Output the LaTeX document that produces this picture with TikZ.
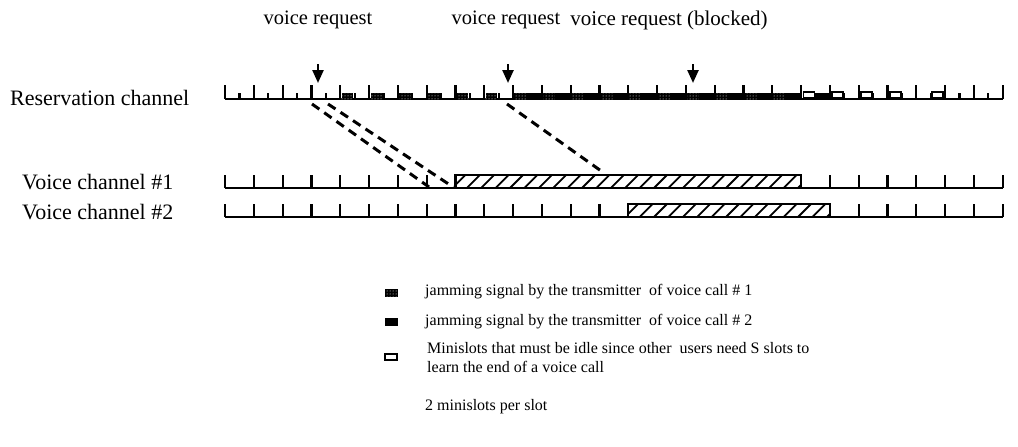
\documentclass[tikz,border=0pt]{standalone}
\usepackage{fontspec}
\setmainfont{Liberation Serif}
\usetikzlibrary{arrows.meta,patterns}
\begin{document}
\begin{tikzpicture}[x=1pt,y=-1pt,
  every node/.style={font=\fontsize{22}{24}\selectfont,inner sep=0pt},
  toplabel/.style={font=\fontsize{20.5}{22}\selectfont},
  chan/.style={line width=2.2pt},
  tick/.style={line width=2.2pt},
  jamone/.style={fill=black,postaction={pattern=dots,pattern color=white}},
  jamtwo/.style={fill=black},
  idle/.style={draw,fill=white,line width=1.8pt},
  call/.style={draw,line width=2.2pt},
  map/.style={line width=3pt,dash pattern=on 9pt off 6pt},
  req/.style={line width=2.4pt,-{Triangle[length=13pt,width=11pt]}},
  legend/.style={font=\fontsize{16}{19}\selectfont,anchor=west}]
\useasboundingbox (0,0) rectangle (1018,447);
\def\xo{225}
\def\sw{28.8}
% labels on top
\node[toplabel] (vr1) at (318,20) {voice request};
\node[toplabel] (vr2) at (506,20) {voice request};
\node[toplabel,font=\fontsize{21}{22}\selectfont] (vr3) at (669,20) {voice request (blocked)};
\node[anchor=west] (resname) at (10,98) {Reservation channel};
\node[anchor=west] (v1name) at (22,182) {Voice channel \#1};
\node[anchor=west] (v2name) at (22,212) {Voice channel \#2};
% reservation channel
\draw[chan] (\xo,99) -- (1003,99);
\foreach \i in {0,...,27} \draw[tick] (\xo+\i*\sw,99) -- ++(0,-14);
\foreach \i in {0,...,26} \draw[tick] (\xo+\i*\sw+0.5*\sw,99) -- ++(0,-6);
\foreach \i in {10,...,19} \fill[jamtwo] (\xo+\i*\sw,99) rectangle ++(\sw,-6.5);
\fill[jamtwo] (\xo+20.5*\sw,99) rectangle ++(0.5*\sw,-6.5);
\foreach \i in {4,...,19} \fill[jamone] (\xo+\i*\sw+1.5,99) rectangle ++(11.5,-6.5);
\foreach \i in {20,...,23} \draw[idle] (\xo+\i*\sw+2.5,98) rectangle ++(11,-6);
\draw[idle] (\xo+24.5*\sw+1.5,98) rectangle ++(11,-6);
% voice channels
\foreach \yy in {188,217}{
  \draw[chan] (\xo,\yy) -- (1003,\yy);
  \foreach \i in {0,...,27} \draw[tick] (\xo+\i*\sw,\yy) -- ++(0,-13);
}
\coordinate (c1a) at (\xo+8*\sw,188);
\coordinate (c1b) at (\xo+20*\sw,175);
\coordinate (c2a) at (\xo+14*\sw,217);
\coordinate (c2b) at (\xo+21*\sw,204);
\fill[white] (c1a) rectangle (c1b);
\fill[white] (c2a) rectangle (c2b);
\begin{scope}
  \clip (c1a) rectangle (c1b);
  \foreach \k in {0,...,24} \draw[line width=1.8pt] (\xo+8*\sw+\k*14.4-3,188) -- ++(13,-13);
\end{scope}
\begin{scope}
  \clip (c2a) rectangle (c2b);
  \foreach \k in {0,...,14} \draw[line width=1.8pt] (\xo+14*\sw+\k*14.4-3,217) -- ++(13,-13);
\end{scope}
\draw[call] (c1a) rectangle (c1b);
\draw[call] (c2a) rectangle (c2b);
% request arrows
\coordinate (a1) at (318,64);
\coordinate (t1) at (318,83);
\coordinate (a2) at (508,64);
\coordinate (t2) at (508,83);
\coordinate (a3) at (693,64);
\coordinate (t3) at (693,83);
\draw[req] (a1) -- (t1);
\draw[req] (a2) -- (t2);
\draw[req] (a3) -- (t3);
% mapping to voice slots
\coordinate (m1s) at (312,104);
\coordinate (m1e) at (429,187);
\coordinate (m2s) at (328,104);
\coordinate (m2e) at (453,187);
\coordinate (m3s) at (507,104);
\coordinate (m3e) at (604,173);
\draw[map] (m1s) -- (m1e);
\draw[map] (m2s) -- (m2e);
\draw[map] (m3s) -- (m3e);
% legend
\fill[jamone] (385,289) rectangle ++(13,8) coordinate (k1);
\fill[jamtwo] (385,318) rectangle ++(13,8) coordinate (k2);
\draw[idle] (385,354) rectangle ++(12,6) coordinate (k3);
\node[legend] (l1) at (425,292) {jamming signal by the transmitter\ \ of voice call \# 1};
\node[legend] (l2) at (425,322) {jamming signal by the transmitter\ \ of voice call \# 2};
\node[legend,align=left] (l3) at (427,358) {Minislots that must be idle since other\ \ users need S slots to\\learn the end of a voice call};
\node[legend] (l4) at (425,407) {2 minislots per slot};
\end{tikzpicture}
\end{document}
